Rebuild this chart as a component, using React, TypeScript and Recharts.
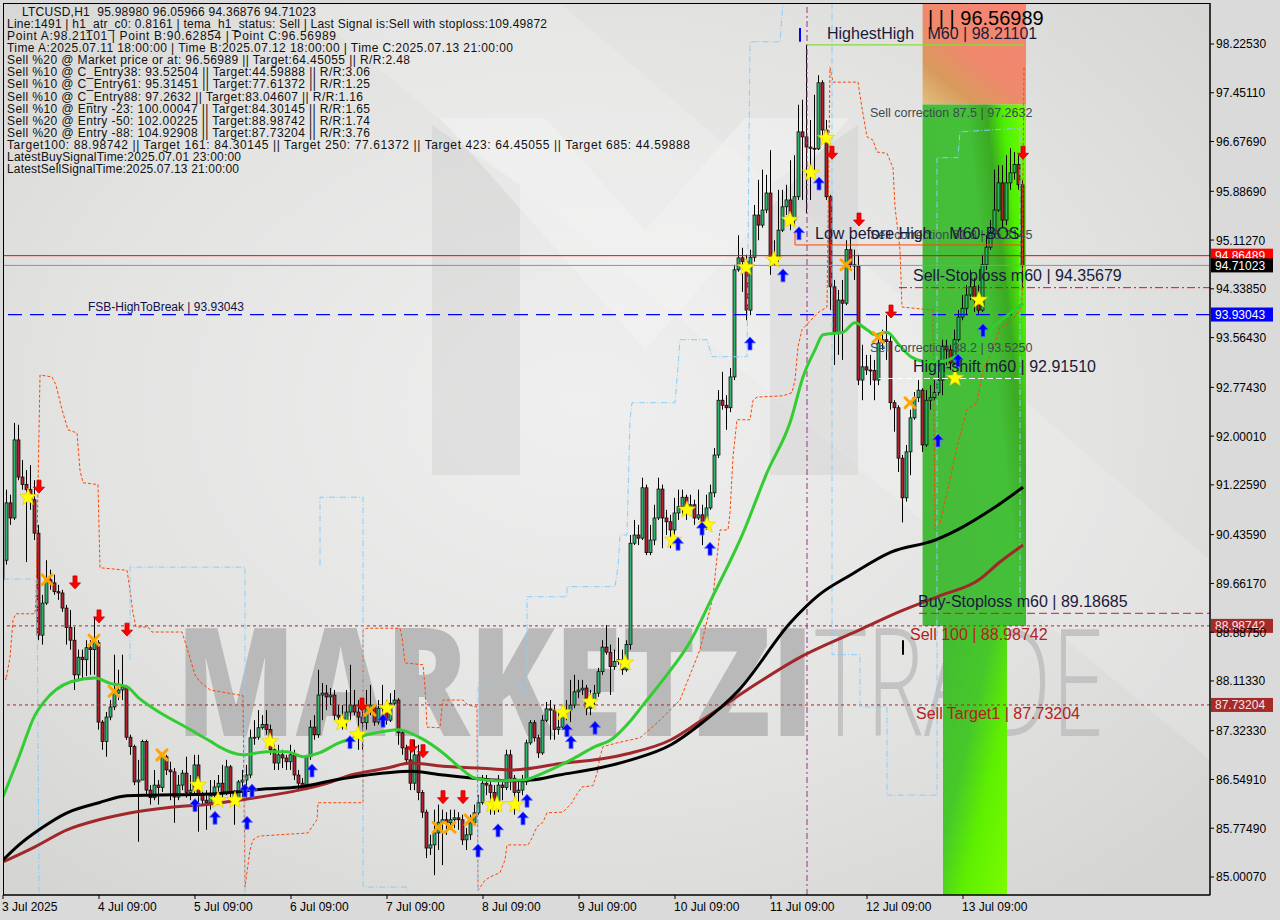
import React from 'react';
import { ComposedChart, Bar, Line, Scatter, XAxis, YAxis, ReferenceLine, ReferenceArea, ReferenceDot } from 'recharts';

const FONT = '"Liberation Sans", Arial, sans-serif';

// ---------------- DATA ----------------
const FIRST_OPEN = 89.72;
const CLOSE = [
  90.03, 90.94, 90.70, 91.94, 91.35, 91.23, 91.15, 90.99, 90.46, 88.84,
  89.35, 89.72, 89.67, 89.53, 89.51, 89.27, 88.96, 88.76, 88.21, 88.49,
  88.45, 88.64, 88.61, 88.72, 87.46, 87.15, 87.54, 87.70, 87.92, 87.97,
  88.02, 87.22, 87.07, 86.51, 86.54, 87.15, 86.38, 86.26, 86.46, 86.42,
  86.91, 86.70, 86.67, 86.27, 86.46, 86.65, 86.34, 86.38, 86.78, 86.30,
  86.22, 86.18, 86.30, 86.43, 86.49, 86.34, 86.75, 86.34, 86.26, 86.51,
  86.54, 86.62, 87.21, 87.22, 87.37, 87.42, 87.34, 87.02, 86.81, 86.94,
  86.89, 86.83, 86.94, 86.62, 86.49, 86.43, 86.91, 87.38, 87.26, 87.89,
  87.92, 87.86, 87.89, 87.57, 87.54, 87.49, 87.62, 87.73, 87.62, 87.54,
  87.45, 87.68, 87.73, 87.46, 87.68, 87.70, 87.49, 87.76, 87.81, 87.29,
  87.05, 86.86, 86.49, 86.94, 86.34, 86.03, 85.46, 85.51, 85.70, 85.87,
  85.91, 85.86, 85.91, 85.94, 85.91, 85.59, 85.67, 85.86, 86.02, 86.18,
  86.49, 86.46, 86.34, 86.22, 86.46, 86.42, 86.94, 86.57, 86.34, 86.38,
  86.51, 87.13, 87.45, 87.21, 86.97, 87.49, 87.67, 87.65, 87.34, 87.38,
  87.61, 87.65, 87.73, 87.94, 87.97, 88.00, 87.68, 87.81, 87.92, 88.26,
  88.65, 88.57, 88.34, 88.42, 88.45, 88.29, 88.69, 90.30, 90.43, 90.38,
  91.18, 90.15, 90.35, 90.70, 91.16, 90.70, 90.64, 90.51, 90.78, 90.88,
  91.03, 90.86, 90.91, 90.70, 90.75, 90.56, 90.86, 91.10, 91.70, 92.57,
  92.49, 92.45, 92.94, 94.64, 94.83, 94.77, 94.00, 94.84, 95.51, 95.35,
  95.59, 95.86, 94.80, 94.83, 95.27, 95.64, 95.75, 95.43, 95.80, 96.83,
  96.75, 96.59, 96.57, 96.56, 97.61, 96.86, 95.80, 94.37, 93.64, 94.16,
  94.11, 94.96, 94.72, 94.70, 92.89, 93.10, 93.05, 93.04, 92.89, 93.48,
  93.53, 93.50, 92.53, 92.45, 91.65, 91.02, 91.75, 92.29, 92.61, 92.73,
  91.86, 92.57, 92.61, 92.69, 92.89, 93.42, 93.37, 93.16, 93.53, 93.89,
  94.03, 94.24, 94.37, 94.16, 94.00, 94.72, 95.00, 95.22, 95.59, 96.02,
  95.43, 96.02, 96.18, 96.31, 95.9898, 94.71023,
];
const HIGH = [
  90.35, 91.15, 91.07, 92.21, 92.18, 91.62, 91.46, 91.54, 91.30, 90.59,
  89.48, 90.03, 89.88, 89.80, 89.64, 89.56, 89.32, 89.24, 88.97, 88.61,
  88.61, 88.76, 88.76, 89.13, 88.76, 87.49, 87.62, 87.81, 88.53, 88.29,
  88.53, 88.05, 87.26, 87.10, 86.86, 87.18, 87.18, 86.46, 86.70, 86.54,
  86.94, 86.94, 86.83, 86.73, 86.62, 86.70, 86.91, 86.62, 86.94, 86.94,
  86.38, 86.38, 86.54, 86.54, 86.62, 86.78, 86.86, 86.78, 86.38, 86.54,
  86.70, 86.78, 87.34, 87.49, 87.65, 87.57, 87.65, 87.42, 87.10, 87.10,
  87.02, 86.94, 87.10, 87.02, 86.70, 86.57, 86.94, 87.49, 87.57, 88.29,
  88.08, 88.05, 88.00, 87.97, 87.73, 87.73, 87.97, 88.37, 87.97, 87.81,
  87.65, 87.97, 88.05, 87.73, 87.81, 88.05, 87.81, 87.92, 87.97, 87.84,
  87.34, 87.10, 87.05, 87.18, 87.10, 86.38, 86.07, 85.67, 86.07, 86.15,
  86.07, 86.03, 86.07, 86.07, 86.03, 85.99, 85.78, 85.99, 86.15, 86.30,
  86.62, 86.62, 86.54, 86.46, 86.62, 86.54, 87.02, 87.02, 86.62, 86.54,
  86.62, 87.18, 87.49, 87.49, 87.26, 87.57, 87.78, 87.81, 87.73, 87.62,
  87.73, 87.81, 88.13, 88.21, 88.13, 88.13, 88.05, 87.97, 88.05, 88.32,
  88.76, 89.00, 88.69, 88.61, 88.80, 88.61, 88.76, 90.43, 90.67, 90.59,
  91.34, 91.23, 90.59, 90.91, 91.34, 91.23, 90.83, 90.75, 91.02, 91.15,
  91.15, 91.07, 91.07, 90.99, 91.15, 90.91, 91.07, 91.23, 91.81, 92.73,
  93.02, 92.65, 93.08, 94.72, 95.19, 94.99, 94.88, 94.96, 95.67, 96.07,
  96.23, 96.15, 96.54, 95.11, 95.91, 95.91, 95.99, 96.38, 96.46, 97.26,
  97.34, 98.21101, 97.02, 97.42, 97.73, 97.65, 97.02, 95.83, 94.48, 94.32,
  94.48, 95.11, 95.19, 94.96, 94.88, 93.45, 93.29, 93.29, 93.21, 93.61,
  93.69, 93.92, 93.61, 92.57, 92.49, 91.70, 91.86, 92.42, 92.70, 92.89,
  92.76, 92.73, 92.81, 92.89, 93.21, 93.53, 93.53, 93.45, 93.69, 94.00,
  94.24, 94.40, 94.64, 94.51, 94.40, 94.88, 95.19, 95.43, 96.23, 96.30,
  96.30, 96.46, 96.56989, 96.51, 96.46, 96.05966,
];
const LOW = [
  89.40, 89.96, 90.59, 90.67, 91.30, 91.15, 90.00, 90.83, 90.35, 88.76,
  88.69, 89.32, 89.56, 89.48, 89.40, 89.21, 88.69, 88.61, 87.97, 88.13,
  88.16, 88.19, 88.21, 88.21, 87.34, 87.02, 86.91, 87.49, 87.65, 87.81,
  87.81, 87.18, 86.94, 86.46, 85.56, 86.54, 86.30, 86.15, 86.22, 86.15,
  86.35, 86.62, 86.22, 85.86, 86.22, 86.38, 86.26, 86.22, 86.30, 85.72,
  86.15, 85.75, 86.07, 86.22, 86.30, 86.22, 86.30, 86.22, 85.83, 86.22,
  86.22, 86.22, 86.57, 87.10, 87.18, 87.34, 87.26, 86.94, 86.70, 86.70,
  86.73, 86.70, 86.70, 86.54, 86.38, 86.38, 86.38, 86.86, 87.18, 87.21,
  87.49, 87.65, 87.73, 87.49, 87.42, 87.34, 87.34, 87.49, 87.57, 87.02,
  87.02, 87.34, 87.57, 87.40, 87.42, 87.46, 87.42, 87.46, 87.72, 87.10,
  86.94, 86.78, 86.38, 86.38, 86.22, 85.94, 85.30, 85.35, 85.03, 85.43,
  85.19, 85.67, 85.75, 85.78, 85.75, 85.51, 85.43, 85.59, 85.83, 85.99,
  86.15, 86.30, 85.99, 85.99, 86.03, 86.22, 86.38, 86.38, 85.99, 86.15,
  86.30, 86.46, 87.10, 87.15, 86.89, 86.94, 87.46, 87.18, 87.18, 87.26,
  87.34, 87.49, 87.46, 87.68, 87.84, 87.89, 87.57, 87.57, 87.73, 87.86,
  88.21, 88.53, 87.89, 88.29, 88.37, 88.21, 88.26, 88.61, 90.27, 90.27,
  90.35, 90.11, 90.11, 90.27, 90.67, 90.22, 90.43, 90.22, 90.43, 90.67,
  90.75, 90.67, 90.83, 90.59, 90.67, 90.27, 90.51, 90.83, 91.03, 91.65,
  92.42, 92.10, 92.38, 92.89, 94.61, 94.29, 93.84, 93.92, 94.77, 95.11,
  95.31, 95.54, 94.56, 94.72, 94.77, 95.24, 95.51, 95.27, 95.35, 95.75,
  95.75, 95.54, 95.75, 96.15, 96.54, 96.70, 95.75, 94.00, 93.13, 93.29,
  93.21, 94.08, 94.64, 94.48, 92.81, 92.57, 92.97, 92.81, 92.57, 92.81,
  93.37, 93.21, 92.42, 92.07, 91.43, 90.62854, 90.96, 91.38, 92.26, 92.54,
  91.75, 91.83, 92.42, 92.57, 92.65, 92.65, 93.13, 93.05, 93.13, 93.50,
  93.84, 93.92, 94.16, 93.97, 93.92, 93.97, 94.64, 94.96, 95.19, 95.56,
  95.31, 95.35, 95.91, 96.07, 95.91, 94.36876,
];

// moving averages: [bar index, price]
const MA_GREEN = [
  [0, 86.27], [4, 86.91], [8, 87.57], [10, 87.76], [17, 88.10], [23, 88.16], [27, 88.07], [31, 88.02],
  [34, 87.84], [39, 87.62], [46, 87.37], [49, 87.26], [52, 87.15], [54, 87.07], [60, 86.94], [66, 86.99],
  [71, 86.99], [75, 86.91], [79, 86.97], [84, 87.13], [91, 87.26], [99, 87.34], [104, 87.22], [110, 86.97],
  [114, 86.75], [118, 86.57], [123, 86.53], [130, 86.54], [135, 86.65], [142, 86.86], [148, 87.07],
  [152, 87.18], [157, 87.49], [160, 87.73], [165, 88.13], [172, 88.76], [177, 89.40], [185, 90.46],
  [191, 91.42], [197, 92.26], [200, 92.94], [203, 93.37], [205, 93.61], [210, 93.65], [213, 93.80],
  [216, 93.69], [218, 93.61], [221, 93.65], [224, 93.45], [227, 93.26], [230, 93.19], [234, 93.18],
  [239, 93.29], [244, 93.53], [249, 93.81], [255, 94.11],
];
const MA_BLACK = [
  [0, 85.27], [4, 85.51], [9, 85.75], [16, 86.02], [24, 86.18], [31, 86.29], [37, 86.30], [52, 86.32],
  [66, 86.40], [74, 86.43], [83, 86.54], [91, 86.62], [102, 86.68], [110, 86.62], [119, 86.56],
  [127, 86.53], [132, 86.54], [139, 86.62], [149, 86.73], [157, 86.86], [167, 87.10], [174, 87.41],
  [184, 87.97], [197, 89.05], [204, 89.48], [212, 89.80], [222, 90.16], [233, 90.35], [240, 90.56],
  [247, 90.83], [255, 91.19],
];
const MA_BROWN = [
  [0, 85.24], [8, 85.48], [16, 85.75], [24, 85.91], [32, 86.02], [41, 86.10], [52, 86.16], [61, 86.24],
  [74, 86.38], [81, 86.49], [87, 86.62], [96, 86.73], [102, 86.81], [110, 86.76], [119, 86.73],
  [127, 86.70], [131, 86.72], [139, 86.80], [149, 86.87], [157, 86.97], [167, 87.18], [174, 87.46],
  [186, 87.97], [199, 88.48], [214, 88.92], [224, 89.21], [234, 89.46], [244, 89.72], [249, 89.99],
  [255, 90.27],
];
// stepped trailing band
const ORANGE_BAND = [
  [0, 88.24], [0.75, 88.13], [1.75, 88.49], [2.5, 89.08], [3.25, 89.18], [8, 89.18], [8.25, 89.40],
  [9.25, 92.97], [12.25, 92.94], [13.25, 92.81], [14.75, 92.42], [16.25, 92.10], [18.5, 92.05],
  [19.25, 91.46], [20, 91.26], [23.75, 91.23], [24.25, 89.91], [31, 89.87], [31.75, 89.56],
  [32.5, 89.19], [33.25, 88.97], [36.25, 88.97], [37.25, 88.89], [44.75, 88.89], [45.75, 88.69],
  [48, 88.21], [49.25, 88.10], [51.75, 87.97], [60, 87.88], [60.5, 84.84], [61.75, 85.43],
  [62.5, 85.59], [64, 85.65], [76.25, 85.70], [77.25, 85.80], [78.5, 85.91], [78.75, 86.18],
  [90, 86.18], [90, 88.92], [91, 88.95], [99.25, 88.95], [99.75, 88.81], [100.5, 88.40], [105, 88.37],
  [105.5, 88.02], [106, 87.38], [109.25, 87.37], [109.75, 87.70], [110, 87.81], [115, 87.81],
  [116.25, 87.73], [118.5, 87.70], [118.75, 84.79], [120.5, 84.95], [121.75, 85.00], [124.25, 85.07],
  [125.5, 85.27], [126, 85.51], [131.25, 85.51], [132.25, 85.62], [133.5, 85.80], [135, 85.87],
  [136, 86.02], [140, 86.03], [142.25, 86.18], [143, 86.27], [144.75, 86.43], [147.5, 86.45],
  [148.5, 86.65], [149.25, 86.91], [150, 87.07], [153.5, 87.13], [159.25, 87.21], [164.25, 87.49],
  [169.25, 87.81], [174.25, 88.61], [177.5, 89.45], [178.5, 90.08], [179.25, 90.51], [181.25, 90.51],
  [181.75, 90.78], [182.5, 91.67], [183.5, 92.26], [186.75, 92.26], [187.5, 92.57], [188.5, 92.62],
  [195, 92.64], [197.25, 92.69], [198, 92.89], [198.75, 93.42], [199.75, 93.69], [203.75, 93.96],
  [206, 94.05], [206.75, 97.85], [207.5, 97.62], [213.75, 97.62], [214.75, 97.21], [216, 96.75],
  [217.5, 96.70], [218.5, 96.51], [221, 96.49], [222.5, 96.26], [223, 95.64], [224.25, 94.96],
  [224.75, 94.05], [232.5, 94.00], [233, 90.51], [234.25, 90.62], [236, 91.10], [238.5, 91.83],
  [241, 92.42], [243.5, 92.53], [245, 93.05], [247.5, 93.37], [249.25, 93.73], [251.75, 93.80],
  [254.25, 94.00], [254.75, 94.16], [255.25, 97.86],
];
const BLUE_BAND_SEGMENTS = [
  [[0, 89.73], [8.5, 89.73], [9, 84.75]],
  [[31.75, 88.45], [31.75, 89.92], [60.5, 89.92], [60.5, 84.75]],
  [[79.25, 89.95], [79.25, 91.03], [90, 91.03], [90, 84.84], [101, 84.84], [101, 84.75]],
  [[118.75, 84.79], [118.75, 88.10], [129.25, 88.10], [129.75, 87.92], [131, 87.92], [131, 89.45],
    [141, 89.45], [141, 89.61], [153, 89.61], [153.75, 89.92], [154.25, 90.43], [156, 90.43],
    [156.75, 92.26], [157.25, 92.53], [168, 92.53], [168.75, 93.10], [169.25, 93.53], [176, 93.53],
    [177.25, 93.26], [186, 93.26], [186.75, 98.26], [194.25, 98.26], [195, 98.88]],
  [[207.25, 98.88], [207.25, 88.53], [214.25, 88.53], [214.25, 87.70], [221, 87.70], [221, 86.30],
    [233.5, 86.30], [233.5, 96.42], [238.75, 96.42], [239.25, 96.83], [254.25, 96.89], [254.25, 89.40]],
];

// signal markers: [bar index, price]
const SELL_ARROWS = [
  [9, 91.19], [18, 89.67], [24, 89.13], [31, 88.92], [89.75, 87.73], [102.25, 87.07], [105, 86.99],
  [110, 86.26], [115, 86.26], [207.25, 96.49], [214, 95.43], [222, 93.97], [255, 96.49],
];
const BUY_ARROWS = [
  [48, 86.15], [53, 85.95], [61, 85.87], [60.5, 86.38], [62.25, 86.38], [77.25, 86.70], [86.75, 87.15],
  [95, 87.49], [118.75, 85.43], [123.75, 85.75], [130, 85.94], [131, 86.22], [141, 87.34], [142, 87.15],
  [148, 87.38], [168.75, 90.30], [174.75, 90.54], [176.75, 90.22], [186.75, 93.48], [195, 94.56],
  [199, 95.23], [204, 96.02], [233.75, 91.94], [238.75, 93.21], [245, 93.69],
];
const STARS = [
  [6.25, 91.03], [48.75, 86.46], [53.75, 86.22], [58, 86.22], [66.75, 87.15], [84.75, 87.45],
  [88.75, 87.26], [96, 87.68], [122.25, 86.15], [123.5, 86.15], [128, 86.15], [140, 87.61],
  [146.75, 87.78], [155.5, 88.40], [167.5, 90.35], [171, 90.83], [176, 90.59], [185.75, 94.68],
  [192.75, 94.80], [196.75, 95.43], [202, 96.18], [205.75, 96.73], [238, 92.92], [244, 94.16],
];
const CROSSES = [
  [11, 89.72], [22.75, 88.76], [27.75, 87.95], [39.75, 86.94], [91.75, 87.65], [108.75, 85.79],
  [111.75, 85.79], [116.75, 85.91], [210.75, 94.72], [218.75, 93.57], [226.75, 92.53],
];

// levels
const LEVEL_ASK = 94.86489;
const LEVEL_LAST = 94.71023;
const LEVEL_FSB = 93.93043;
const LEVEL_SELL_SL = 94.35679;
const LEVEL_BUY_SL = 89.18685;
const LEVEL_SELL100 = 88.98742;
const LEVEL_TARGET1 = 87.73204;
const LEVEL_HH = 98.21101;
const LEVEL_LBH = 95.035;
const LEVEL_HSHIFT = 92.9151;
const LEVEL_CORR875 = 97.2632;
const POINT_A_BAR = 201;

const Y_TICKS = [98.2253, 97.4511, 96.6769, 95.8869, 95.1127, 94.3385, 93.5643, 92.7743, 92.0001,
  91.2259, 90.4359, 89.6617, 88.8875, 88.1133, 87.3233, 86.5491, 85.7749, 85.0007];
const X_TICKS = [0, 24, 48, 72, 96, 120, 144, 168, 192, 216, 240];
const X_LABELS = ['3 Jul 2025', '4 Jul 09:00', '5 Jul 09:00', '6 Jul 09:00', '7 Jul 09:00', '8 Jul 09:00',
  '9 Jul 09:00', '10 Jul 09:00', '11 Jul 09:00', '12 Jul 09:00', '13 Jul 09:00'];

const TITLE_LINE = 'LTCUSD,H1  95.98980 96.05966 94.36876 94.71023';
const INFO_LINES = [
  'Line:1491 | h1_atr_c0: 0.8161 | tema_h1_status: Sell | Last Signal is:Sell with stoploss:109.49872',
  'Point A:98.21101 | Point B:90.62854 | Point C:96.56989',
  'Time A:2025.07.11 18:00:00 | Time B:2025.07.12 18:00:00 | Time C:2025.07.13 21:00:00',
  'Sell %20 @ Market price or at: 96.56989 || Target:64.45055 || R/R:2.48',
  'Sell %10 @ C_Entry38: 93.52504 || Target:44.59888 || R/R:3.06',
  'Sell %10 @ C_Entry61: 95.31451 || Target:77.61372 || R/R:1.25',
  'Sell %10 @ C_Entry88: 97.2632 || Target:83.04607 || R/R:1.16',
  'Sell %10 @ Entry -23: 100.00047 || Target:84.30145 || R/R:1.65',
  'Sell %20 @ Entry -50: 102.00225 || Target:88.98742 || R/R:1.74',
  'Sell %20 @ Entry -88: 104.92908 || Target:87.73204 || R/R:3.76',
  'Target100: 88.98742 || Target 161: 84.30145 || Target 250: 77.61372 || Target 423: 64.45055 || Target 685: 44.59888',
  'LatestBuySignalTime:2025.07.01 23:00:00',
  'LatestSellSignalTime:2025.07.13 21:00:00',
];
// rendered widths (layout) of the info lines, px
const TITLE_WIDTH = 294;
const INFO_WIDTHS = [540, 329, 506, 403, 363, 363, 356, 363, 363, 363, 683, 234, 232];

// ---------------- derived tables ----------------
const candles = CLOSE.map((c, i) => ({
  i, o: i === 0 ? FIRST_OPEN : CLOSE[i - 1], c, h: HIGH[i], l: LOW[i], range: [LOW[i], HIGH[i]],
}));
const pts = (arr: number[][]) => arr.map(([i, v]) => ({ i, v }));

const X_DOMAIN = [0, 301.75];
const Y_DOMAIN = [84.7149, 98.8762];

// ---------------- shapes ----------------
const Candle = (props: any) => {
  const { x, y, width, height, payload } = props;
  if (!payload || height == null) return null;
  const { o, c, h, l } = payload;
  const hh = Math.max(h, o, c), ll = Math.min(l, o, c);
  const top0 = Math.min(y, y + height), hgt = Math.abs(height);
  const span = hh - ll || 1e-9;
  const py = (v: number) => top0 + ((hh - v) / span) * hgt;
  const cx = Math.floor(x + width / 2) + 0.5;
  const bt = py(Math.max(o, c)), bb = py(Math.min(o, c));
  const up = c >= o;
  return (
    <g>
      <line x1={cx} x2={cx} y1={top0} y2={top0 + hgt} stroke="#000" strokeWidth={1} />
      <rect x={cx - 1.5} y={bt} width={3} height={Math.max(1, bb - bt)} fill={up ? '#2fb36a' : '#b3202e'} stroke="#000" strokeWidth={0.7} />
    </g>
  );
};

const starPath = (cx: number, cy: number, R: number, r: number) => {
  let d = '';
  for (let k = 0; k < 10; k++) {
    const a = -Math.PI / 2 + (k * Math.PI) / 5;
    const rad = k % 2 === 0 ? R : r;
    d += (k === 0 ? 'M' : 'L') + (cx + rad * Math.cos(a)).toFixed(2) + ',' + (cy + rad * Math.sin(a)).toFixed(2);
  }
  return d + 'Z';
};
const StarShape = (p: any) => <path d={starPath(p.cx, p.cy, 9, 3.8)} fill="#ffff00" stroke="#e8c400" strokeWidth={0.6} />;
const DownArrow = (p: any) => {
  const { cx, cy } = p;
  const d = `M${cx - 2},${cy - 7} L${cx + 2},${cy - 7} L${cx + 2},${cy} L${cx + 5.5},${cy} L${cx},${cy + 6} L${cx - 5.5},${cy} L${cx - 2},${cy} Z`;
  return <path d={d} fill="#ff0000" stroke="#c80000" strokeWidth={0.8} />;
};
const UpArrow = (p: any) => {
  const { cx, cy } = p;
  const d = `M${cx - 2},${cy + 7} L${cx + 2},${cy + 7} L${cx + 2},${cy} L${cx + 5.5},${cy} L${cx},${cy - 6} L${cx - 5.5},${cy} L${cx - 2},${cy} Z`;
  return <path d={d} fill="#0000ff" stroke="#5a6cff" strokeWidth={0.8} />;
};
const CrossShape = (p: any) => {
  const { cx, cy } = p;
  return (
    <g stroke="#ffa500" strokeWidth={3} strokeLinecap="round">
      <line x1={cx - 5} y1={cy - 5} x2={cx + 5} y2={cy + 5} />
      <line x1={cx - 5} y1={cy + 5} x2={cx + 5} y2={cy - 5} />
    </g>
  );
};

const textDot = (value: string, size: number, color: string) => (p: any) => (
  <text x={p.cx} y={p.cy} fontSize={size} fontFamily={FONT} fill={color} style={{ whiteSpace: 'pre' }}>{value}</text>
);
const priceBox = (value: string, bg: string, fg: string) => (p: any) => (
  <g>
    <rect x={p.cx + 1} y={p.cy - 7} width={62} height={14} fill={bg} />
    <text x={p.cx + 5} y={p.cy + 4.5} fontSize={12} fontFamily={FONT} fill={fg}>{value}</text>
  </g>
);

const YTick = (props: any) => {
  const { x, y, payload } = props;
  return (
    <g>
      <line x1={x} x2={x + 4} y1={y} y2={y} stroke="#000" />
      <text x={x + 6} y={y + 4.5} fontSize={12} fontFamily={FONT} fill="#000">{Number(payload.value).toFixed(5)}</text>
    </g>
  );
};
const XTick = (props: any) => {
  const { x, y, payload } = props;
  const idx = X_TICKS.indexOf(payload.value);
  return (
    <g>
      <line x1={x} x2={x} y1={y} y2={y + 4} stroke="#000" />
      <text x={x - 1} y={y + 16} fontSize={12} fontFamily={FONT} fill="#000">{X_LABELS[idx]}</text>
    </g>
  );
};

const Background = () => (
  <svg width={1280} height={920} style={{ position: 'absolute', left: 0, top: 0 }}>
    <defs>
      <radialGradient id="bgGrad" cx="48%" cy="45%" r="70%">
        <stop offset="0" stopColor="#efefef" />
        <stop offset="0.6" stopColor="#e3e3e2" />
        <stop offset="1" stopColor="#d5d5d3" />
      </radialGradient>
      <linearGradient id="redZone" x1="0" y1="1" x2="0.8" y2="0">
        <stop offset="0" stopColor="#e0c080" />
        <stop offset="0.25" stopColor="#d89a5c" />
        <stop offset="0.5" stopColor="#ee8a6c" />
        <stop offset="1" stopColor="#f88474" />
      </linearGradient>
      <linearGradient id="greenZone" x1="1" y1="0" x2="0" y2="0.55">
        <stop offset="0" stopColor="#7cfc00" />
        <stop offset="0.18" stopColor="#4cf000" />
        <stop offset="0.3" stopColor="#3aaa22" />
        <stop offset="0.45" stopColor="#44c038" />
        <stop offset="1" stopColor="#46bb3a" />
      </linearGradient>
      <linearGradient id="limeZone" x1="1" y1="1" x2="0" y2="0">
        <stop offset="0" stopColor="#7cfc00" />
        <stop offset="0.35" stopColor="#5ef000" />
        <stop offset="0.6" stopColor="#46c82a" />
        <stop offset="1" stopColor="#44bb33" />
      </linearGradient>
    </defs>
    <rect x={0} y={0} width={1280} height={920} fill="#dadada" />
    <rect x={3} y={3} width={1207} height={892} fill="url(#bgGrad)" />
    <polygon points="300,3 560,3 1210,560 1210,760" fill="#ffffff" opacity={0.16} />
    {/* logo */}
    <polygon points="432,125 520,185 520,475 432,475" fill="#c4c4c4" opacity={0.3} />
    <polygon points="770,185 858,125 858,475 770,475" fill="#c4c4c4" opacity={0.3} />
    <polygon points="440,118 545,118 645,230 745,118 850,118 645,350" fill="#f4f4f4" opacity={0.5} />
    {/* watermark */}
    <text x={176} y={736} fontSize={150} fontWeight={800} fontFamily='"Open Sans", "Liberation Sans", sans-serif' fill="#b9b9b9" textLength={638} lengthAdjust="spacingAndGlyphs">MARKETZI</text>
    <text x={815} y={736} fontSize={150} fontWeight={300} fontFamily='"Open Sans", "Liberation Sans", sans-serif' fill="#c3c3c3" textLength={290} lengthAdjust="spacingAndGlyphs">TRADE</text>
  </svg>
);

const Overlay = () => (
  <svg width={1280} height={920} style={{ position: 'absolute', left: 0, top: 0, pointerEvents: 'none' }}>
    <rect x={3.5} y={3.5} width={1206.5} height={891.5} fill="none" stroke="#000" strokeWidth={1} />
    <text x={22} y={16} fontSize={12} fontFamily={FONT} fill="#111" textLength={TITLE_WIDTH} lengthAdjust="spacing" style={{ whiteSpace: 'pre' }}>{TITLE_LINE}</text>
    {INFO_LINES.map((s, k) => (
      <text key={k} x={7} y={28.1 + k * 12.07} fontSize={12} fontFamily={FONT} fill="#111" textLength={INFO_WIDTHS[k]} lengthAdjust="spacing">{s}</text>
    ))}
  </svg>
);

export default function App() {
  return (
    <div style={{ position: 'absolute', left: 0, top: 0, width: 1280, height: 920, overflow: 'hidden', background: '#dadada' }}>
      <Background />
      <div style={{ position: 'absolute', left: 0, top: 0 }}>
        <ComposedChart width={1280} height={920} data={candles} margin={{ top: 3, right: 0, bottom: 0, left: 3 }}>
          <XAxis dataKey="i" type="number" domain={X_DOMAIN} allowDataOverflow ticks={X_TICKS} interval={0}
            tick={<XTick />} tickLine={false} tickSize={0} tickMargin={0} axisLine={{ stroke: '#000' }} height={25} />
          <YAxis orientation="right" type="number" domain={Y_DOMAIN} allowDataOverflow ticks={Y_TICKS} interval={0}
            tick={<YTick />} tickLine={false} tickSize={0} tickMargin={0} axisLine={{ stroke: '#000' }} width={70} />

          <ReferenceArea x1={229.9} x2={255.75} y1={LEVEL_CORR875} y2={Y_DOMAIN[1]} fill="url(#redZone)" fillOpacity={1} stroke="none" ifOverflow="hidden" />
          <ReferenceArea x1={229.9} x2={255.75} y1={LEVEL_SELL100} y2={LEVEL_CORR875} fill="url(#greenZone)" fillOpacity={1} stroke="none" ifOverflow="hidden" />
          <ReferenceArea x1={235} x2={251} y1={Y_DOMAIN[0]} y2={LEVEL_SELL100} fill="url(#limeZone)" fillOpacity={1} stroke="none" ifOverflow="hidden" />

          <ReferenceLine x={POINT_A_BAR} stroke="#a0307a" strokeDasharray="6 3 2 3" />
          <ReferenceLine y={LEVEL_SELL100} stroke="#a52a2a" strokeDasharray="3 3" />
          <ReferenceLine y={LEVEL_TARGET1} stroke="#a52a2a" strokeDasharray="3 3" />
          <ReferenceLine y={LEVEL_FSB} stroke="#0000ff" strokeDasharray="14 8" strokeWidth={1.3} />
          <ReferenceLine y={LEVEL_LAST} stroke="#8696a4" />
          <ReferenceLine y={LEVEL_ASK} stroke="#ff0000" />

          <Line data={pts(ORANGE_BAND)} dataKey="v" stroke="#ff4500" strokeWidth={1} strokeDasharray="3 2" dot={false} type="linear" isAnimationActive={false} />
          {BLUE_BAND_SEGMENTS.map((seg, k) => (
            <Line key={'lb' + k} data={pts(seg)} dataKey="v" stroke="#87cefa" strokeWidth={1} strokeDasharray="6 2 1 2" dot={false} type="linear" isAnimationActive={false} />
          ))}

          <Bar dataKey="range" barSize={3} shape={(p: any) => <Candle {...p} />} isAnimationActive={false} />

          <Line data={pts(MA_BROWN)} dataKey="v" stroke="#a0282a" strokeWidth={3} dot={false} type="monotone" isAnimationActive={false} />
          <Line data={pts(MA_BLACK)} dataKey="v" stroke="#000000" strokeWidth={3} dot={false} type="monotone" isAnimationActive={false} />
          <Line data={pts(MA_GREEN)} dataKey="v" stroke="#33cc33" strokeWidth={3} dot={false} type="monotone" isAnimationActive={false} />

          <ReferenceLine segment={[{ x: POINT_A_BAR, y: LEVEL_HH }, { x: 255, y: LEVEL_HH }]} stroke="#86dc3c" strokeWidth={1.2} />
          <ReferenceLine segment={[{ x: 198, y: LEVEL_LBH }, { x: 255, y: LEVEL_LBH }]} stroke="#ff4500" strokeWidth={1} />
          <ReferenceLine segment={[{ x: 198, y: LEVEL_LBH }, { x: 198, y: 95.24 }]} stroke="#ff4500" strokeWidth={1} />
          <ReferenceLine segment={[{ x: 219, y: LEVEL_HSHIFT }, { x: 255, y: LEVEL_HSHIFT }]} stroke="#ffffff" strokeDasharray="6 3" strokeWidth={1} />
          <ReferenceLine segment={[{ x: 224, y: LEVEL_SELL_SL }, { x: 301.75, y: LEVEL_SELL_SL }]} stroke="#ff0000" strokeDasharray="8 3 2 3" strokeWidth={1} />
          <ReferenceLine segment={[{ x: 229, y: LEVEL_BUY_SL }, { x: 301.75, y: LEVEL_BUY_SL }]} stroke="#cc2020" strokeDasharray="8 4" strokeWidth={1} />
          <ReferenceLine segment={[{ x: 199.25, y: 98.48 }, { x: 199.25, y: 98.26 }]} stroke="#0000ff" strokeWidth={2} />
          <ReferenceLine segment={[{ x: 225, y: 88.76 }, { x: 225, y: 88.53 }]} stroke="#000000" strokeWidth={2} />

          <Scatter data={pts(CROSSES)} dataKey="v" shape={CrossShape} isAnimationActive={false} />
          <Scatter data={pts(STARS)} dataKey="v" shape={StarShape} isAnimationActive={false} />
          <Scatter data={pts(BUY_ARROWS)} dataKey="v" shape={UpArrow} isAnimationActive={false} />
          <Scatter data={pts(SELL_ARROWS)} dataKey="v" shape={DownArrow} isAnimationActive={false} />

          <ReferenceDot x={206} y={98.305} r={0} shape={textDot('HighestHigh   M60 | 98.21101', 16, '#1a1a3a')} />
          <ReferenceDot x={231.25} y={98.527} r={0} shape={textDot('| | | 96.56989', 20, '#000')} />
          <ReferenceDot x={216.75} y={97.067} r={0} shape={textDot('Sell correction 87.5 | 97.2632', 12.5, '#3c4a55')} />
          <ReferenceDot x={216.75} y={95.13} r={0} shape={textDot('Sell correction 61.8 | 95.3145', 12.5, '#3c4a55')} />
          <ReferenceDot x={203} y={95.13} r={0} shape={textDot('Low before High    M60-BOS', 16, '#1a1a3a')} />
          <ReferenceDot x={227.5} y={94.463} r={0} shape={textDot('Sell-Stoploss m60 | 94.35679', 16, '#1a1a3a')} />
          <ReferenceDot x={216.75} y={93.336} r={0} shape={textDot('Sell correction 38.2 | 93.5250', 12.5, '#3c4a55')} />
          <ReferenceDot x={227.5} y={93.018} r={0} shape={textDot('High-shift m60 | 92.91510', 16, '#1a1a3a')} />
          <ReferenceDot x={228.75} y={89.288} r={0} shape={textDot('Buy-Stoploss m60 | 89.18685', 16, '#1a1a3a')} />
          <ReferenceDot x={226.75} y={88.764} r={0} shape={textDot('Sell 100 | 88.98742', 16, '#b22222')} />
          <ReferenceDot x={228.25} y={87.51} r={0} shape={textDot('Sell Target1 | 87.73204', 16, '#b22222')} />
          <ReferenceDot x={21.25} y={93.987} r={0} shape={textDot('FSB-HighToBreak | 93.93043', 12, '#10104a')} />

          <ReferenceDot x={301.75} y={LEVEL_ASK} r={0} shape={priceBox('94.86489', '#ff0000', '#ffffff')} />
          <ReferenceDot x={301.75} y={LEVEL_LAST} r={0} shape={priceBox('94.71023', '#000000', '#ffffff')} />
          <ReferenceDot x={301.75} y={LEVEL_FSB} r={0} shape={priceBox('93.93043', '#0000ff', '#ffffff')} />
          <ReferenceDot x={301.75} y={LEVEL_SELL100} r={0} shape={priceBox('88.98742', '#a52a2a', '#ffe4e4')} />
          <ReferenceDot x={301.75} y={LEVEL_TARGET1} r={0} shape={priceBox('87.73204', '#a52a2a', '#ffe4e4')} />
        </ComposedChart>
      </div>
      <Overlay />
    </div>
  );
}
